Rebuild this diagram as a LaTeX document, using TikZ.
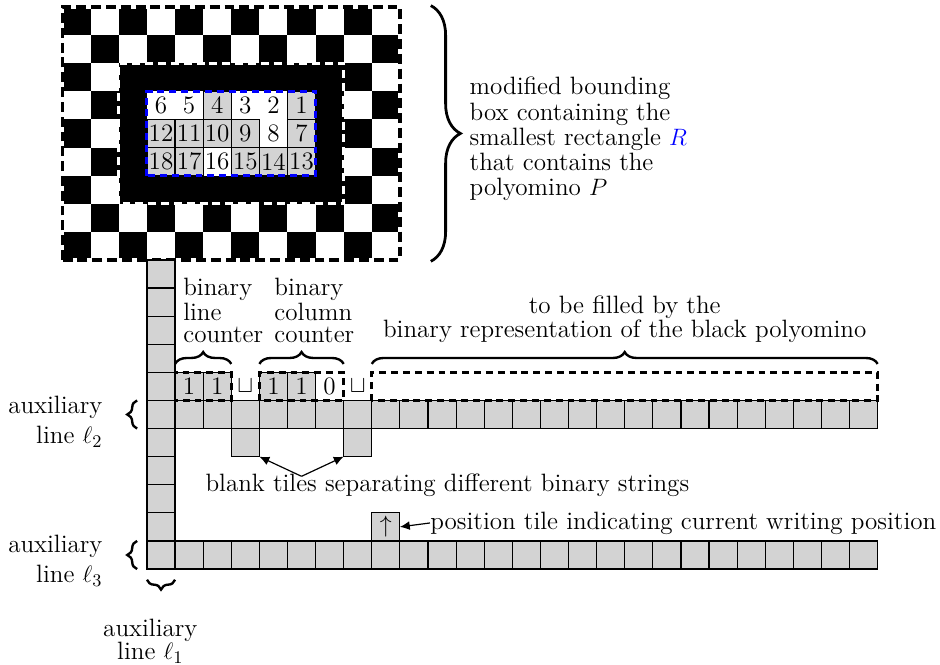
\documentclass[tikz,border=0pt]{standalone}
\usetikzlibrary{decorations.pathreplacing,arrows.meta}
\definecolor{tilegray}{RGB}{211,211,211}
\begin{document}
\begin{tikzpicture}[x=0.5cm,y=0.5cm,
  tile/.style={draw=black,line width=0.6pt,fill=tilegray,minimum size=0.5cm,inner sep=0pt,outer sep=0pt,anchor=south west,font=\fontsize{12.7}{15}\selectfont},
  plain/.style={tile,draw=none,fill=none},
  lbl/.style={inner sep=0pt,font=\fontsize{12.7}{15.2}\selectfont},
  brc/.style={decorate,decoration={brace,amplitude=#1},line width=1.2pt},
  brc/.default=6pt,
  dbox/.style={line width=1.4pt,dash pattern=on 3.5pt off 2.5pt},
  arr/.style={-{Latex[length=5pt,width=4.5pt]},line width=0.6pt}]
\useasboundingbox (-5.23,-3.38) rectangle (28.22,20.25);

% checkerboard
\foreach \r in {0,...,8}{
  \foreach \c in {0,...,11}{
    \pgfmathtruncatemacro\s{mod(\r+\c,2)}
    \ifnum\s=0 \fill[black] (-3+\c,19-\r) rectangle ++(1,1); \fi
  }
}
\fill[black] (-1,13) rectangle (7,18);
\fill[white] (0,14) rectangle (6,17);
\foreach \x/\y/\n/\g in {0/16/6/0,1/16/5/0,2/16/4/1,3/16/3/0,4/16/2/0,5/16/1/1,
  0/15/12/1,1/15/11/1,2/15/10/1,3/15/9/1,4/15/8/0,5/15/7/1,
  0/14/18/1,1/14/17/1,2/14/16/0,3/14/15/1,4/14/14/1,5/14/13/1}{
  \ifnum\g=1 \node[tile] (n\n) at (\x,\y) {\n}; \else \node[plain] (n\n) at (\x,\y) {\n}; \fi
}
\draw[blue,line width=1.5pt,dash pattern=on 3.5pt off 2.5pt] (0,14) rectangle (6,17);
\draw[white,line width=1.5pt,dash pattern=on 4pt off 2.5pt] (-1,13) rectangle (7,18);
\draw[white,line width=1.7pt] (-3,11) rectangle (9,20);
\draw[black,line width=1.7pt,dash pattern=on 5pt off 2.5pt] (-3,11) rectangle (9,20);

% right brace and text
\draw[brc=15pt,line width=1.4pt] (10.1,20.05) -- (10.1,10.95);
\node[lbl,anchor=west,align=left,font=\fontsize{12.7}{12.8}\selectfont] (bbox) at (11.47,15.3)
  {modified bounding\\box containing the\\smallest rectangle {\color{blue}$R$}\\that contains the\\polyomino $P$};

% tiles: column and auxiliary lines
\foreach \i in {0,...,10} \node[tile] (col\i) at (0,\i) {};
\foreach \i in {1,...,25} \node[tile] (la\i) at (\i,0) {};
\foreach \i in {1,...,25} \node[tile] (lb\i) at (\i,5) {};

% counters
\node[tile] (k1) at (1,6) {1};
\node[tile] (k2) at (2,6) {1};
\node[plain] (s1) at (3,6) {$\sqcup$};
\node[tile] (k3) at (4,6) {1};
\node[tile] (k4) at (5,6) {1};
\node[plain] (k5) at (6,6) {0};
\node[plain] (s2) at (7,6) {$\sqcup$};
\draw[dbox] (1,6) rectangle (3,7);
\draw[dbox] (4,6) rectangle (7,7);
\draw[dbox] (8,6) rectangle (26,7);

% blank tiles and position tile
\node[tile] (bl1) at (3,4) {};
\node[tile] (bl2) at (7,4) {};
\node[tile] (pos) at (8,1) {$\uparrow$};

% braces over counters
\draw[brc] (1,7.3) -- (3,7.3);
\draw[brc] (4,7.3) -- (7,7.3);
\draw[brc] (8,7.3) -- (26,7.3);
\node[lbl,anchor=west,align=left,font=\fontsize{12.7}{11.4}\selectfont] (linec) at (1.28,9.2) {binary\\line\\counter};
\node[lbl,anchor=west,align=left,font=\fontsize{12.7}{11.4}\selectfont] (colc) at (4.52,9.2) {binary\\column\\counter};
\node[lbl,align=center,font=\fontsize{12.7}{12.3}\selectfont] (fill) at (17,8.9) {to be filled by the\\binary representation of the black polyomino};

% left braces and labels
\draw[brc=5pt] (-0.35,5) -- (-0.35,6);
\draw[brc=5pt] (-0.35,0) -- (-0.35,1);
\draw[brc=5pt] (1,-0.38) -- (0,-0.38);
\node[lbl,anchor=east,align=right] (aux2) at (-1.57,5.25) {auxiliary\\line $\ell_2$};
\node[lbl,anchor=east,align=right] (aux3) at (-1.57,0.3) {auxiliary\\line $\ell_3$};
\node[lbl,align=center,font=\fontsize{12.7}{12}\selectfont] (aux1) at (0.12,-2.56) {auxiliary\\line $\ell_1$};

% blank tiles label
\node[lbl] (blank) at (10.69,2.99) {blank tiles separating different binary strings};
\coordinate (apex) at (5.5,3.3);
\draw[arr] (apex) -- (bl1.south east);
\draw[arr] (apex) -- (bl2.south west);

% position tile label
\node[lbl,anchor=west] (postxt) at (10.07,1.64) {position tile indicating current writing position};
\draw[arr] (postxt.west) -- (pos.east);
\end{tikzpicture}
\end{document}
